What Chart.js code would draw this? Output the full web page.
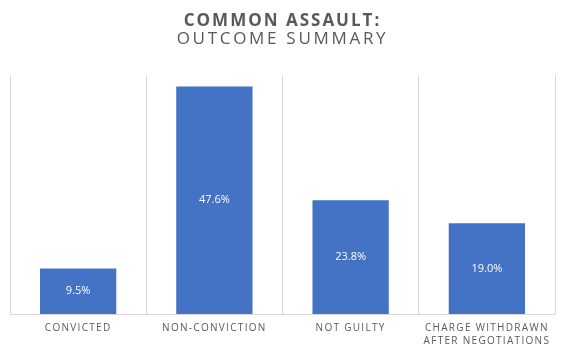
<!DOCTYPE html>
<html>
<head>
<meta charset="utf-8">
<script src="https://cdn.jsdelivr.net/npm/chart.js@4"></script>
<style>html,body{margin:0;padding:0;background:#fff;}canvas{display:block;}</style>
</head>
<body>
<canvas id="c" width="570" height="355"></canvas>
<script>
const categories = ['CONVICTED', 'NON-CONVICTION', 'NOT GUILTY', ['CHARGE WITHDRAWN', 'AFTER NEGOTIATIONS']];
const outcomeShare = [9.5, 47.6, 23.8, 19.0];
const titleLines = ['COMMON ASSAULT:', 'OUTCOME SUMMARY'];

const spacingPlugin = {
  id: 'spacing',
  beforeInit(chart) {
    const ctx = chart.ctx;
    const orig = ctx.fillText;
    ctx.fillText = function () {
      const prev = this.letterSpacing;
      const f = this.font;
      let ls = '0px';
      if (f.indexOf('17px') >= 0) ls = (f.indexOf('bold') >= 0) ? '2px' : '2.7px';
      else if (f.indexOf('10px') >= 0) ls = '1.3px';
      this.letterSpacing = ls;
      orig.apply(this, arguments);
      this.letterSpacing = prev;
    };
  }
};

const valueLabels = {
  id: 'valueLabels',
  afterDatasetsDraw(chart) {
    const ctx = chart.ctx;
    const meta = chart.getDatasetMeta(0);
    ctx.save();
    ctx.fillStyle = '#ffffff';
    ctx.font = '11px "Open Sans"';
    ctx.textAlign = 'center';
    ctx.textBaseline = 'middle';
    meta.data.forEach((bar, i) => {
      const v = chart.data.datasets[0].data[i];
      const mid = (bar.y + bar.base) / 2;
      ctx.fillText(v.toFixed(1) + '%', bar.x, mid);
    });
    ctx.restore();
  }
};

new Chart(document.getElementById('c'), {
  type: 'bar',
  data: {
    labels: categories,
    datasets: [{
      data: outcomeShare,
      backgroundColor: '#4472C4',
      borderWidth: 0,
      categoryPercentage: 1,
      barPercentage: 0.56
    }]
  },
  options: {
    responsive: false,
    animation: false,
    layout: { padding: { left: 10, right: 15, top: 0, bottom: -1 } },
    plugins: {
      legend: { display: false },
      tooltip: { enabled: false },
      title: {
        display: true,
        text: titleLines[0],
        color: '#595959',
        font: { family: 'Open Sans', size: 17, weight: 'bold', lineHeight: 1 },
        padding: { top: 12.5, bottom: 0 }
      },
      subtitle: {
        display: true,
        text: titleLines[1],
        color: '#595959',
        font: { family: 'Open Sans', size: 17, weight: 'normal', lineHeight: 1 },
        padding: { top: 1.5, bottom: 27 }
      }
    },
    scales: {
      x: {
        grid: { color: '#D9D9D9', offset: true, drawTicks: false },
        border: { display: true, color: '#D9D9D9' },
        ticks: {
          color: '#595959',
          font: { family: 'Open Sans', size: 10, lineHeight: 1.3 },
          padding: 8,
          maxRotation: 0,
          autoSkip: false
        }
      },
      y: { display: false, min: 0, max: 50 }
    }
  },
  plugins: [spacingPlugin, valueLabels]
});
</script>
</body>
</html>
